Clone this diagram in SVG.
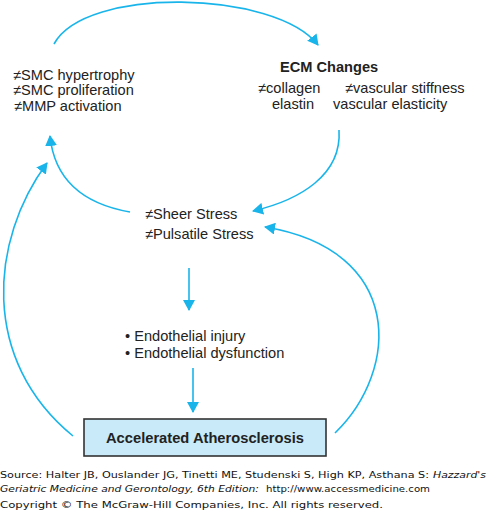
<svg xmlns="http://www.w3.org/2000/svg" width="488" height="511" viewBox="0 0 488 511">
<style>
.t{font-family:"Liberation Sans",Arial,Helvetica,sans-serif;font-size:14.6px;fill:#222}
.b{font-weight:bold}
.f{font-family:"DejaVu Sans",Verdana,sans-serif;font-size:9.5px;fill:#111}
.i{font-style:italic}
.c{fill:none;stroke:#19b5ea;stroke-width:1.6}
</style>
<defs>
<marker id="ah" viewBox="0 0 11 12" refX="10" refY="6" markerWidth="11" markerHeight="12" markerUnits="userSpaceOnUse" orient="auto">
<path d="M0,0 L11,6 L0,12 z" fill="#19b5ea"/>
</marker>
</defs>
<rect width="488" height="511" fill="#fff"/>
<g id="connectors">
<path class="c" d="M54,44 C85,-14 275,-10 318,45" marker-end="url(#ah)"/>
<path class="c" d="M339,130 C342,175 300,200 253,211" marker-end="url(#ah)"/>
<path class="c" d="M130,212 C90,205 55,185 50,136" marker-end="url(#ah)"/>
<path class="c" d="M73,436 C-20,360 -10,240 47,163" marker-end="url(#ah)"/>
<path class="c" d="M335,433 C400,370 405,250 265,227" marker-end="url(#ah)"/>
<path class="c" d="M189,268 L189,310" marker-end="url(#ah)"/>
<path class="c" d="M193,368 L193,412" marker-end="url(#ah)"/>
</g>
<g id="smc">
<text class="t" x="13" y="80">≠SMC hypertrophy</text>
<text class="t" x="13" y="95">≠SMC proliferation</text>
<text class="t" x="14" y="111">≠MMP activation</text>
</g>
<g id="ecm">
<text class="t b" x="280" y="72">ECM Changes</text>
<text class="t" x="258" y="93">≠collagen</text>
<text class="t" x="345" y="93">≠vascular stiffness</text>
<text class="t" x="272" y="109">elastin</text>
<text class="t" x="333" y="109">vascular elasticity</text>
</g>
<g id="stress">
<text class="t" x="145" y="219">≠Sheer Stress</text>
<text class="t" x="145" y="239">≠Pulsatile Stress</text>
</g>
<g id="endothelial">
<text class="t" x="125" y="341">• Endothelial injury</text>
<text class="t" x="125" y="358">• Endothelial dysfunction</text>
</g>
<g id="atherosclerosis">
<rect x="84" y="419" width="242" height="37" fill="#c8eaf9" stroke="#333" stroke-width="1.6"/>
<text class="t b" x="205" y="443" text-anchor="middle" textLength="198" lengthAdjust="spacingAndGlyphs">Accelerated Atherosclerosis</text>
</g>
<g id="footer">
<text class="f" x="0" y="478" textLength="429" lengthAdjust="spacingAndGlyphs">Source: Halter JB, Ouslander JG, Tinetti ME, Studenski S, High KP, Asthana S:</text>
<text class="f i" x="433" y="478" textLength="53" lengthAdjust="spacingAndGlyphs">Hazzard's</text>
<text class="f i" x="0" y="492" textLength="259" lengthAdjust="spacingAndGlyphs">Geriatric Medicine and Gerontology, 6th Edition:</text>
<text class="f" x="266" y="492" textLength="164" lengthAdjust="spacingAndGlyphs">http://www.accessmedicine.com</text>
<text class="f" x="0" y="508" textLength="383" lengthAdjust="spacingAndGlyphs">Copyright © The McGraw-Hill Companies, Inc. All rights reserved.</text>
</g>
</svg>
